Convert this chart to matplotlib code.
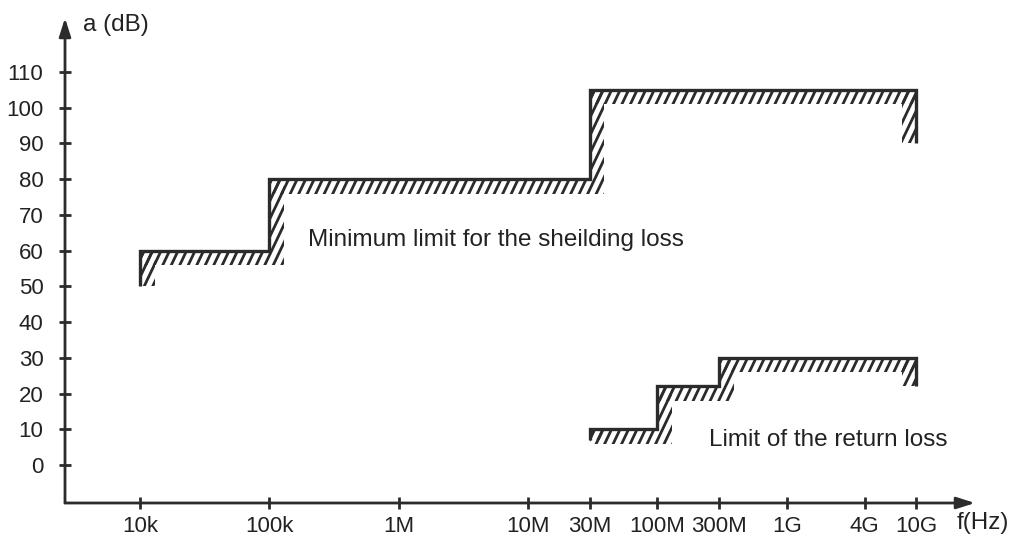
import numpy as np
import matplotlib.pyplot as plt
from matplotlib.collections import LineCollection
from matplotlib.path import Path
from matplotlib.transforms import IdentityTransform

plt.rcParams["font.family"] = ["Liberation Sans", "DejaVu Sans"]

# frequency ticks along the axis
tick_freqs = [1e4, 1e5, 1e6, 1e7, 3e7, 1e8, 3e8, 1e9, 4e9, 1e10]
tick_labels = ["10k", "100k", "1M", "10M", "30M", "100M", "300M", "1G", "4G", "10G"]
db_ticks = list(range(0, 111, 10))

# shielding loss limit: band edges (Hz), level per band (dB), drop at both ends (dB)
shield_f = [1e4, 1e5, 3e7, 1e10]
shield_db = [60, 80, 105]
shield_ends = [50, 90]

# return loss limit
return_f = [3e7, 1e8, 3e8, 1e10]
return_db = [10, 22, 30]
return_ends = [7, 22]

INK = "#2b2b2b"
TXT = "#222222"
FS = 17.5
TICK_FS = 16
BAND = 14.5      # hatch band width, px
PITCH = 8.5      # hatch spacing, px
SLOPE = 2.1      # dy/dx of hatch strokes


def step_points(f, db, ends):
    xs, ys = [f[0]], [ends[0]]
    for i, v in enumerate(db):
        xs += [f[i], f[i + 1]]
        ys += [v, v]
    xs.append(f[-1])
    ys.append(ends[1])
    return xs, ys


def hatch_rect(ax, x0, y0, w, h):
    """Diagonal strokes clipped to a rectangle given in display pixels."""
    fw, fh = ax.figure.bbox.width, ax.figure.bbox.height
    segs = []
    c = -fh / SLOPE
    while c < fw + fh:
        segs.append([(c, 0), (c + fh / SLOPE, fh)])
        c += PITCH
    lc = LineCollection(segs, colors=INK, linewidths=2.0, transform=IdentityTransform())
    rect = Path([(x0, y0), (x0 + w, y0), (x0 + w, y0 + h), (x0, y0 + h), (x0, y0)], closed=True)
    lc.set_clip_path(rect, IdentityTransform())
    ax.add_collection(lc, autolim=False)


def draw_limit(ax, f, db, ends):
    xs, ys = step_points(f, db, ends)
    T = ax.transData.transform
    # drop at the left end: band on the right
    (xa, ya), (_, yb) = T((f[0], ends[0])), T((f[0], db[0]))
    hatch_rect(ax, xa, ya, BAND, yb - ya)
    for i, v in enumerate(db):
        (x0, y), (x1, _) = T((f[i], v)), T((f[i + 1], v))
        hatch_rect(ax, x0, y - BAND, x1 - x0, BAND)
        if i > 0:
            (_, ylo) = T((f[i], db[i - 1]))
            hatch_rect(ax, x0, ylo - BAND, BAND, y - ylo + BAND)
    # drop at the right end: band on the left
    (xe, ye), (_, yt) = T((f[-1], ends[1])), T((f[-1], db[-1]))
    hatch_rect(ax, xe - BAND, ye, BAND, yt - ye)
    ax.plot(xs, ys, color=INK, lw=2.4, solid_joinstyle="miter", solid_capstyle="butt", zorder=5)


fig = plt.figure(figsize=(10.18, 5.44), dpi=100)
W, H = 1018, 544
ax = fig.add_axes([65 / W, (H - 503) / H, (975 - 65) / W, (503 - 18) / H])
ax.set_xscale("log")
ax.set_xlim(10 ** 3.42, 10 ** 10.456)
ax.set_ylim(-10.6, 125.1)

for s in ax.spines.values():
    s.set_visible(False)
ax.set_xticks(tick_freqs)
ax.set_xticklabels(tick_labels)
ax.minorticks_off()
ax.set_yticks(db_ticks)
ax.tick_params(direction="inout", length=9, width=2, color=INK, labelsize=TICK_FS, labelcolor=TXT)
ax.tick_params(axis="y", pad=11)
ax.tick_params(axis="x", pad=5)

# axes drawn as arrows
arrow = dict(arrowstyle="-|>,head_length=1.1,head_width=0.35", lw=2, color=INK,
             shrinkA=0, shrinkB=0)
ax.annotate("", xy=(1, 0), xytext=(0, 0), xycoords="axes fraction", arrowprops=arrow)
ax.annotate("", xy=(0, 1), xytext=(0, 0), xycoords="axes fraction", arrowprops=arrow)

fig.canvas.draw()
draw_limit(ax, shield_f, shield_db, shield_ends)
draw_limit(ax, return_f, return_db, return_ends)

ax.text(2e5, 63, "Minimum limit for the sheilding loss", fontsize=FS, va="center", color=TXT)
ax.text(2.5e8, 7, "Limit of the return loss", fontsize=FS, va="center", color=TXT)
fig.text(83 / W, 1 - 25 / H, "a (dB)", fontsize=FS, va="center", color=TXT)
fig.text(957 / W, 1 - 523 / H, "f(Hz)", fontsize=FS, va="center", color=TXT)

fig.savefig("out.png", dpi=100)
